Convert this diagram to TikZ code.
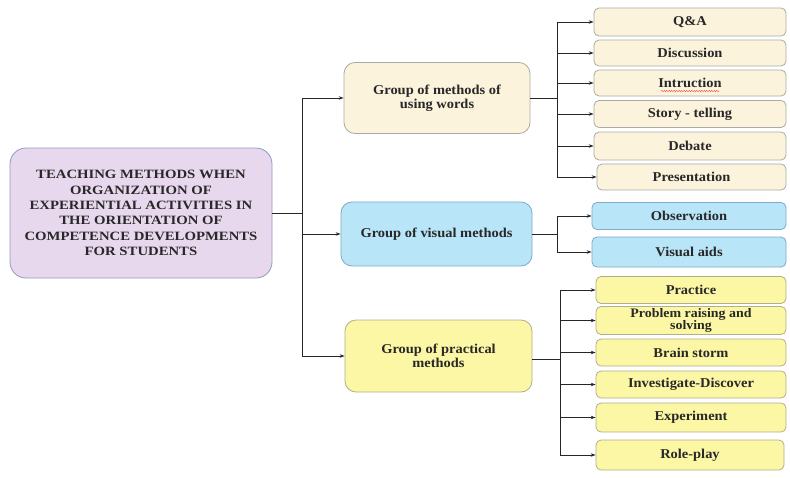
\documentclass[tikz,border=0pt]{standalone}
\usepackage{fontspec}
\setmainfont{Liberation Serif}[FakeStretch=1.07]
\newfontfamily\rootfont{Liberation Serif}[FakeStretch=1.16]
\usetikzlibrary{arrows.meta,decorations.pathmorphing}

\definecolor{rootfill}{RGB}{232,216,238}
\definecolor{rootline}{RGB}{140,155,190}
\definecolor{creamfill}{RGB}{252,243,220}
\definecolor{creamline}{RGB}{170,170,165}
\definecolor{bluefill}{RGB}{185,229,248}
\definecolor{blueline}{RGB}{125,170,200}
\definecolor{yelfill}{RGB}{252,247,165}
\definecolor{yelline}{RGB}{175,175,140}
\definecolor{txt}{RGB}{40,40,40}

\tikzset{
  box/.style={draw, line width=0.8pt, align=center, text=txt,
    font=\fontsize{13.5}{14.5}\selectfont\bfseries, inner sep=2pt},
  rootbox/.style={box, fill=rootfill, draw=rootline, rounded corners=16pt,
    minimum width=262pt, minimum height=130pt,
    font=\rootfont\fontsize{12.7}{15.3}\selectfont\bfseries},
  grp/.style={box, rounded corners=11pt, minimum height=70pt},
  leaf/.style={box, rounded corners=5pt, minimum height=27pt},
  cream/.style={fill=creamfill, draw=creamline},
  blue/.style={fill=bluefill, draw=blueline},
  yel/.style={fill=yelfill, draw=yelline},
  link/.style={line width=0.7pt, draw=black!85},
  arr/.style={link, -{Stealth[length=5pt,width=3.5pt]}},
}

\begin{document}
\begin{tikzpicture}[x=1pt,y=-1pt]
\useasboundingbox (0,0) rectangle (790,477);

% root
\node[rootbox] (root) at (141,213) {TEACHING METHODS WHEN\\ORGANIZATION OF\\EXPERIENTIAL ACTIVITIES IN\\THE ORIENTATION OF\\COMPETENCE DEVELOPMENTS\\FOR STUDENTS};

% method groups
\node[grp, cream, minimum width=186pt, minimum height=71pt] (g1) at (437,98) {Group of methods of\\using words};
\node[grp, blue, minimum width=191pt, minimum height=64pt] (g2) at (436.5,234) {Group of visual methods};
\node[grp, yel, minimum width=187pt, minimum height=72pt] (g3) at (438.5,356) {Group of practical\\methods};

% word methods
\node[leaf, cream, minimum width=192pt, minimum height=28pt] (w1) at (690,22) {Q\&A};
\node[leaf, cream, minimum width=192pt, minimum height=26pt] (w2) at (690,53) {Discussion};
\node[leaf, cream, minimum width=192pt, minimum height=26pt] (w3) at (690,83) {Intruction};
\node[leaf, cream, minimum width=192pt, minimum height=27pt] (w4) at (690,114) {Story - telling};
\node[leaf, cream, minimum width=192pt, minimum height=28pt] (w5) at (690,146) {Debate};
\node[leaf, cream, minimum width=189pt, minimum height=26pt] (w6) at (691.5,177) {Presentation};

% spell-check mark under a word
\draw[red!80, line width=0.4pt, decorate, decoration={snake, amplitude=0.6pt, segment length=2.5pt}]
  ([xshift=-29pt,yshift=-8pt]w3.center) -- ([xshift=29pt,yshift=-8pt]w3.center);

% visual methods
\node[leaf, blue, minimum width=194pt, minimum height=27pt] (v1) at (689,216) {Observation};
\node[leaf, blue, minimum width=194pt, minimum height=30pt] (v2) at (689,252) {Visual aids};

% practical methods
\node[leaf, yel, minimum width=190pt] (p1) at (691,290) {Practice};
\node[leaf, yel, minimum width=190pt, font=\fontsize{13}{12}\selectfont\bfseries] (p2) at (691,320.5) {Problem raising and\\solving};
\node[leaf, yel, minimum width=190pt] (p3) at (691,352.5) {Brain storm};
\node[leaf, yel, minimum width=190pt] (p4) at (691,384.5) {Investigate-Discover};
\node[leaf, yel, minimum width=190pt, minimum height=29pt] (p5) at (691,417.5) {Experiment};
\node[leaf, yel, minimum width=188pt, minimum height=30pt] (p6) at (690,455) {Role-play};

% trunk from the root to the groups
\coordinate (t0) at (302,213);
\draw[link] (root.east) -- (t0);
\draw[arr] (t0) |- (g1.west);
\draw[arr] (t0) |- (g2.west);
\draw[arr] (t0) |- (g3.west);

% branches from each group
\coordinate (b1) at (557,98);
\draw[link] (g1.east) -- (b1);
\foreach \n in {w1,w2,w3,w4,w5,w6} \draw[arr] (b1) |- (\n.west);

\coordinate (b2) at (557,234);
\draw[link] (g2.east) -- (b2);
\foreach \n in {v1,v2} \draw[arr] (b2) |- (\n.west);

\coordinate (b3) at (560,359);
\draw[link] (g3.east |- b3) -- (b3);
\foreach \n in {p1,p2,p3,p4,p5,p6} \draw[arr] (b3) |- (\n.west);
\end{tikzpicture}
\end{document}
